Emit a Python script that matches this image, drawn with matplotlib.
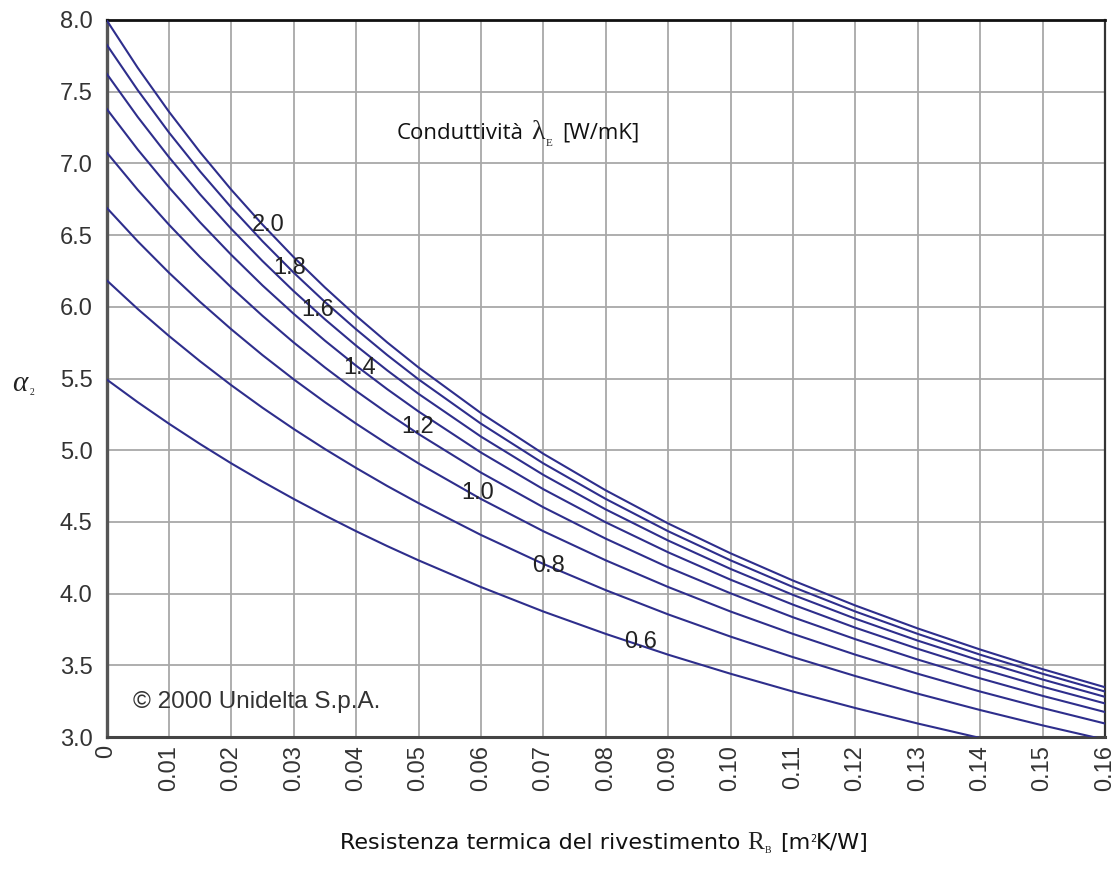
import matplotlib
matplotlib.use("Agg")
import matplotlib.pyplot as plt

# ---------------- data ----------------
R_values = [0.000, 0.005, 0.010, 0.015, 0.020, 0.025, 0.030, 0.035, 0.040, 0.045, 0.050,
            0.06, 0.07, 0.08, 0.09, 0.10, 0.11, 0.12, 0.13, 0.14, 0.15, 0.16]

alpha_l20 = [8.000, 7.667, 7.361, 7.078, 6.816, 6.573, 6.346, 6.135, 5.937, 5.751, 5.577,
             5.259, 4.975, 4.720, 4.489, 4.281, 4.091, 3.917, 3.757, 3.610, 3.473, 3.347]
alpha_l18 = [7.830, 7.511, 7.216, 6.944, 6.692, 6.457, 6.238, 6.034, 5.843, 5.663, 5.494,
             5.185, 4.908, 4.660, 4.435, 4.232, 4.046, 3.875, 3.719, 3.574, 3.441, 3.317]
alpha_l16 = [7.627, 7.324, 7.044, 6.784, 6.543, 6.319, 6.109, 5.913, 5.729, 5.556, 5.393,
             5.095, 4.828, 4.587, 4.370, 4.172, 3.991, 3.825, 3.672, 3.532, 3.401, 3.280]
alpha_l14 = [7.382, 7.097, 6.834, 6.589, 6.362, 6.149, 5.951, 5.764, 5.589, 5.425, 5.270,
             4.984, 4.728, 4.497, 4.288, 4.097, 3.923, 3.762, 3.615, 3.478, 3.351, 3.234]
alpha_l12 = [7.078, 6.816, 6.573, 6.346, 6.135, 5.937, 5.751, 5.577, 5.413, 5.259, 5.113,
             4.844, 4.602, 4.383, 4.183, 4.002, 3.835, 3.682, 3.540, 3.409, 3.287, 3.174]
alpha_l10 = [6.692, 6.457, 6.238, 6.034, 5.843, 5.663, 5.494, 5.335, 5.185, 5.043, 4.908,
             4.660, 4.435, 4.232, 4.046, 3.875, 3.719, 3.574, 3.441, 3.317, 3.202, 3.094]
alpha_l08 = [6.186, 5.985, 5.797, 5.620, 5.453, 5.296, 5.148, 5.008, 4.876, 4.750, 4.631,
             4.409, 4.207, 4.024, 3.855, 3.700, 3.557, 3.425, 3.302, 3.188, 3.081, 2.981]
alpha_l06 = [5.494, 5.335, 5.185, 5.043, 4.908, 4.781, 4.660, 4.545, 4.435, 4.331, 4.232,
             4.046, 3.875, 3.719, 3.574, 3.441, 3.317, 3.202, 3.094, 2.993, 2.899, 2.811]

curve_labels = ["2.0", "1.8", "1.6", "1.4", "1.2", "1.0", "0.8", "0.6"]
series = [alpha_l20, alpha_l18, alpha_l16, alpha_l14, alpha_l12, alpha_l10, alpha_l08, alpha_l06]

x_ticks = [0.00, 0.01, 0.02, 0.03, 0.04, 0.05, 0.06, 0.07, 0.08,
           0.09, 0.10, 0.11, 0.12, 0.13, 0.14, 0.15, 0.16]
x_tick_labels = ["0", "0.01", "0.02", "0.03", "0.04", "0.05", "0.06", "0.07", "0.08",
                 "0.09", "0.10", "0.11", "0.12", "0.13", "0.14", "0.15", "0.16"]
y_ticks = [3.0, 3.5, 4.0, 4.5, 5.0, 5.5, 6.0, 6.5, 7.0, 7.5, 8.0]
y_tick_labels = ["3.0", "3.5", "4.0", "4.5", "5.0", "5.5", "6.0", "6.5", "7.0", "7.5", "8.0"]

# label anchor positions (layout)
label_pos = [(0.0259, 6.57), (0.0294, 6.27), (0.0339, 5.98), (0.0406, 5.57),
             (0.0499, 5.16), (0.0594, 4.70), (0.0708, 4.19), (0.0855, 3.66)]

# ---------------- figure ----------------
W, H = 1120, 881
fig = plt.figure(figsize=(W / 100, H / 100), dpi=100)
fig.patch.set_facecolor("white")
L, R_, T, B = 106.5, 1105.0, 20.0, 737.0
ax = fig.add_axes([L / W, 1 - B / H, (R_ - L) / W, (B - T) / H])

LINE_COL = "#2E2E8C"
for vals in series:
    ax.plot(R_values, vals, color=LINE_COL, lw=1.5, zorder=3)

ax.set_xlim(0, 0.16)
ax.set_ylim(3.0, 8.0)
ax.set_xticks(x_ticks)
ax.set_xticklabels(x_tick_labels, rotation=90, fontfamily="Liberation Sans",
                   fontsize=17, color="#333333")
ax.set_yticks(y_ticks)
ax.set_yticklabels(y_tick_labels, fontfamily="Liberation Sans", fontsize=17, color="#333333")
ax.tick_params(axis="x", length=0, pad=6)
ax.tick_params(axis="y", length=0, pad=10)
ax.grid(True, color="#A8A8A8", lw=1.3)
ax.set_axisbelow(True)

for side, col, lw in [("top", "#111111", 2.0), ("right", "#333333", 1.6),
                      ("left", "#555555", 2.4), ("bottom", "#444444", 2.2)]:
    ax.spines[side].set_color(col)
    ax.spines[side].set_linewidth(lw)

for lab, (lx, ly) in zip(curve_labels, label_pos):
    ax.text(lx, ly, lab, fontfamily="Liberation Sans", fontsize=17, color="#222222",
            ha="center", va="center", zorder=4)

ax.text(0.0042, 3.245, "\u00a9 2000 Unidelta S.p.A.", fontfamily="Liberation Sans",
        fontsize=17.5, color="#333333", ha="left", va="center", zorder=4)

renderer = fig.canvas.get_renderer()


def chain(pieces, x_px, base_px):
    """pieces: (text, fontkw, gap_before_px, dy_px)"""
    x = x_px
    for txt, kw, gap, dy in pieces:
        x += gap
        t = fig.text(x / W, 1 - (base_px + dy) / H, txt, ha="left", va="baseline", **kw)
        bb = t.get_window_extent(renderer)
        x += bb.width


serif = dict(fontfamily="Liberation Serif", color="#222222")
sans_t = dict(fontfamily="Open Sans", color="#111111")
sans_x = dict(fontfamily="DejaVu Sans", color="#111111")

# inner title
chain([
    ("Conduttivit\u00e0", dict(sans_t, fontsize=16), 0, 0),
    ("\u03bb", dict(serif, fontsize=20), 7, 0),
    ("E", dict(serif, fontsize=8), 1, 7),
    ("[W/mK]", dict(sans_t, fontsize=16), 10, 0),
], 397, 139)

# x label
chain([
    ("Resistenza termica del rivestimento", dict(sans_x, fontsize=16), 0, 0),
    ("R", dict(serif, fontsize=18), 7, 0),
    ("B", dict(serif, fontsize=7), 1, 4),
    ("[m", dict(sans_x, fontsize=16), 8, 0),
    ("2", dict(sans_x, fontsize=7), 0, -7),
    ("K/W]", dict(sans_x, fontsize=16), 0, 0),
], 340, 849)

# y label
chain([
    ("\u03b1", dict(serif, fontsize=21, style="italic"), 0, 0),
    ("2", dict(serif, fontsize=7), 2, 4),
], 12, 391)

fig.savefig("out.png", dpi=100, facecolor="white")
